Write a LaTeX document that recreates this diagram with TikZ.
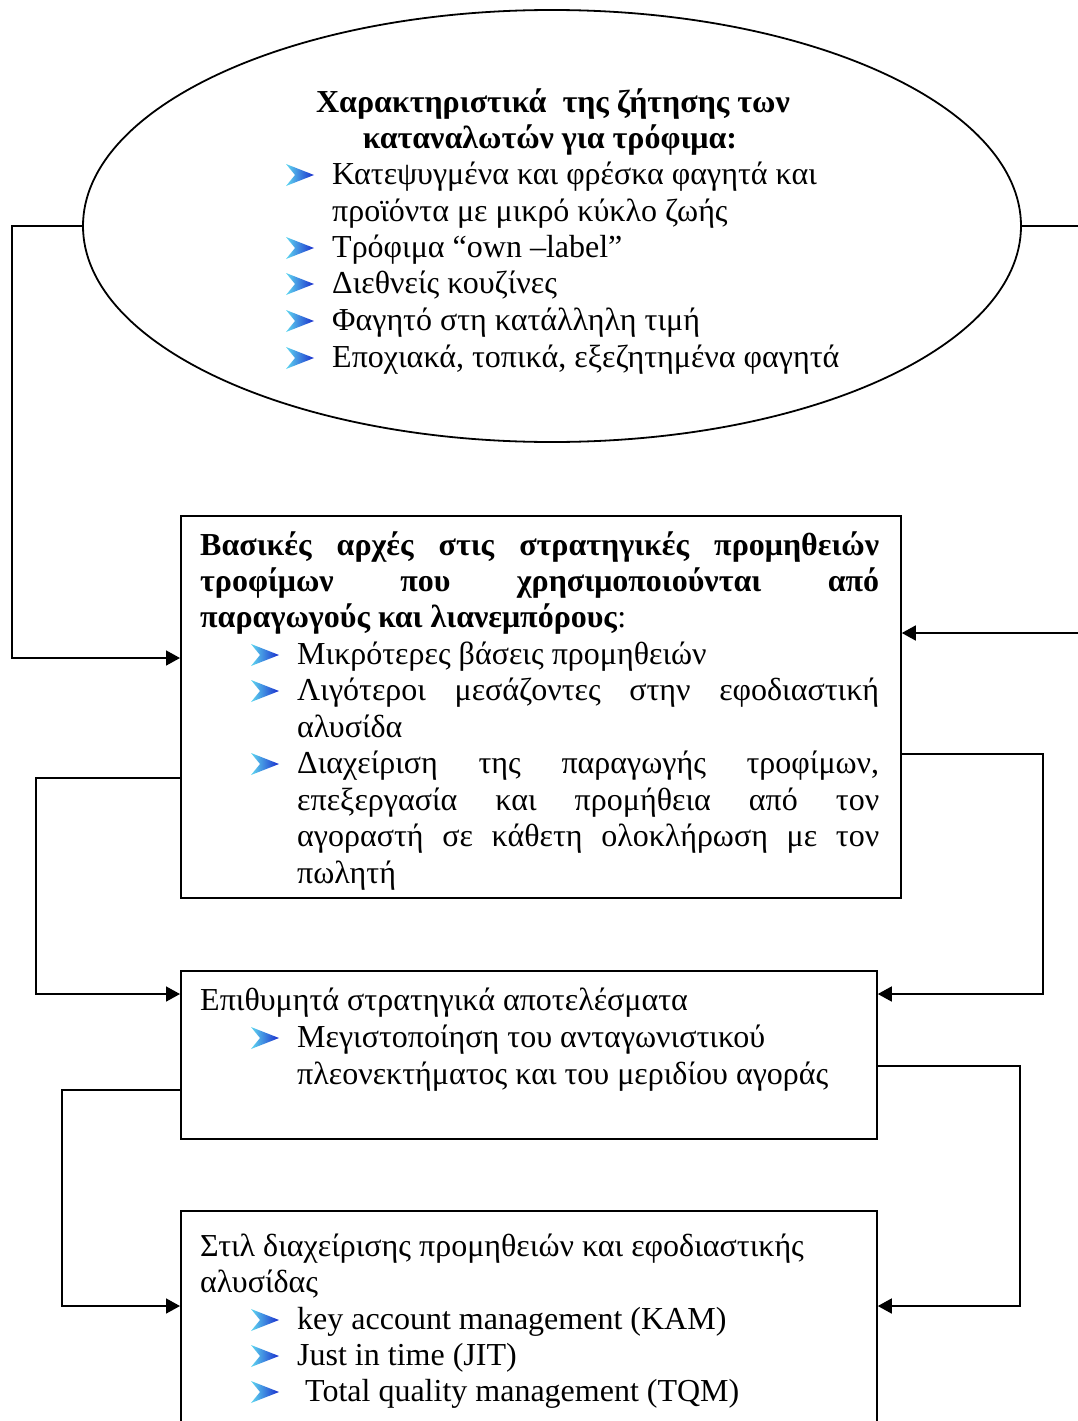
\documentclass[tikz,border=0pt]{standalone}
\usepackage{fontspec}
\setmainfont{Liberation Serif}
\usetikzlibrary{arrows.meta,shapes.geometric}

\definecolor{chevL}{RGB}{95,215,240}
\definecolor{chevR}{RGB}{25,45,205}

\tikzset{
  x=1pt, y=-1pt,
  frame/.style={draw, line width=1.8pt, rectangle, inner sep=0pt, anchor=north west},
  oval/.style={draw, line width=1.8pt, ellipse, inner sep=0pt},
  link/.style={line width=1.6pt},
  feed/.style={link, -{Triangle[length=14pt,width=15pt]}},
  txt/.style={anchor=base west, inner sep=0pt, font=\fontsize{32}{36}\selectfont},
  ttl/.style={anchor=base, inner sep=0pt, font=\fontsize{32}{36}\selectfont\bfseries},
  chevron/.pic={\shade[left color=chevL, right color=chevR]
    (0,-20) -- (28,-9) -- (0,2) -- (9,-9) -- cycle;}
}

\begin{document}
\begin{tikzpicture}
\useasboundingbox (0,0) rectangle (1078,1421);
\clip (0,0) rectangle (1078,1421);

% ---- shapes ----
\node[oval, minimum width=938pt, minimum height=432pt] (ell) at (552,226) {};
\node[frame, minimum width=720pt, minimum height=382pt] (b1) at (180,515) {};
\node[frame, minimum width=696pt, minimum height=168pt] (b2) at (180,970) {};
\node[frame, minimum width=696pt, minimum height=260pt] (b3) at (180,1210) {};

% ---- ellipse text ----
\node[ttl] (e1) at (553,112) {Χαρακτηριστικά \ της ζήτησης των};
\node[ttl] (e2) at (550,148) {καταναλωτών για τρόφιμα:};
\foreach \y/\t [count=\i] in {
  184/{Κατεψυγμένα και φρέσκα φαγητά και},
  221/{προϊόντα με μικρό κύκλο ζωής},
  257/{Τρόφιμα “own –label”},
  293/{Διεθνείς κουζίνες},
  330/{Φαγητό στη κατάλληλη τιμή},
  367/{Εποχιακά, τοπικά, εξεζητημένα φαγητά}}
  \node[txt] (el\i) at (332,\y) {\t};
\foreach \y in {184,257,293,330,367}
  \pic at (286,\y) {chevron};

% ---- box 1 text ----
\node[txt, font=\fontsize{32}{36}\selectfont\bfseries] (a1) at (200,555)
  {\makebox[679pt][s]{Βασικές αρχές στις στρατηγικές προμηθειών}};
\node[txt, font=\fontsize{32}{36}\selectfont\bfseries] (a2) at (200,591)
  {\makebox[679pt][s]{τροφίμων που χρησιμοποιούνται από}};
\node[txt] (a3) at (200,627) {\textbf{παραγωγούς και λιανεμπόρους}:};
\node[txt] (a4) at (297,664) {Μικρότερες βάσεις προμηθειών};
\node[txt] (a5) at (297,700) {\makebox[582pt][s]{Λιγότεροι μεσάζοντες στην εφοδιαστική}};
\node[txt] (a6) at (297,737) {αλυσίδα};
\node[txt] (a7) at (297,773) {\makebox[582pt][s]{Διαχείριση της παραγωγής τροφίμων,}};
\node[txt] (a8) at (297,810) {\makebox[582pt][s]{επεξεργασία και προμήθεια από τον}};
\node[txt] (a9) at (297,846) {\makebox[582pt][s]{αγοραστή σε κάθετη ολοκλήρωση με τον}};
\node[txt] (a10) at (297,883) {πωλητή};
\foreach \y in {664,700,773}
  \pic at (251,\y) {chevron};

% ---- box 2 text ----
\node[txt] (c1) at (200,1010) {Επιθυμητά στρατηγικά αποτελέσματα};
\node[txt] (c2) at (297,1047) {Μεγιστοποίηση του ανταγωνιστικού};
\node[txt] (c3) at (297,1084) {πλεονεκτήματος και του μεριδίου αγοράς};
\pic at (251,1047) {chevron};

% ---- box 3 text ----
\node[txt] (d1) at (200,1256) {Στιλ διαχείρισης προμηθειών και εφοδιαστικής};
\node[txt] (d2) at (200,1292) {αλυσίδας};
\node[txt] (d3) at (297,1329) {key account management (KAM)};
\node[txt] (d4) at (297,1365) {Just in time (JIT)};
\node[txt] (d5) at (297,1401) {\ Total quality management (TQM)};
\foreach \y in {1329,1365,1401}
  \pic at (251,\y) {chevron};

% ---- connectors ----
\coordinate (k1) at (0,658);
\coordinate (k2) at (0,633);
\coordinate (k3) at (0,778);
\coordinate (k4) at (0,754);
\coordinate (k5) at (0,994);
\coordinate (k6) at (0,1090);
\coordinate (k7) at (0,1066);
\coordinate (k8) at (0,1306);

\draw[feed] (ell.west) -- (12,226) |- (b1.west |- k1);
\draw[feed] (ell.east) -- (1090,226) |- (b1.east |- k2);
\draw[feed] (b1.west |- k3) -- (36,778) |- (b2.west |- k5);
\draw[feed] (b1.east |- k4) -- (1043,754) |- (b2.east |- k5);
\draw[feed] (b2.west |- k6) -- (62,1090) |- (b3.west |- k8);
\draw[feed] (b2.east |- k7) -- (1020,1066) |- (b3.east |- k8);
\end{tikzpicture}
\end{document}
